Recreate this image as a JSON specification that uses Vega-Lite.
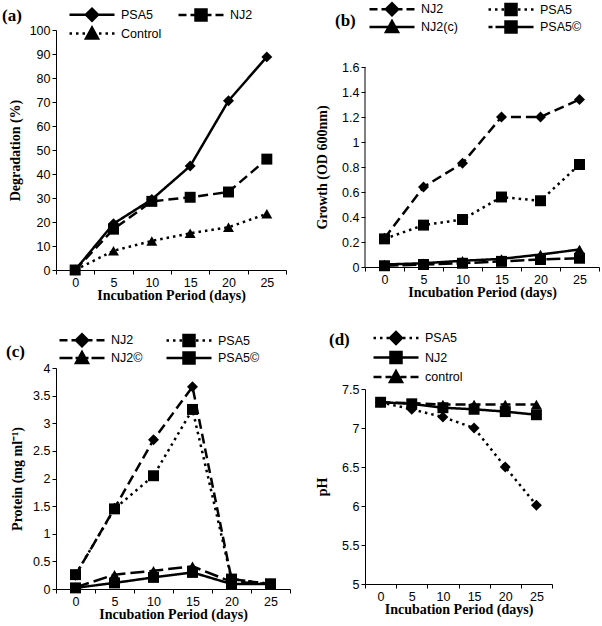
{
  "$schema": "https://vega.github.io/schema/vega-lite/v6.json",
  "background": "white",
  "padding": {"left": 2, "top": 2, "right": 0, "bottom": 0},
  "data": {"values": [
    {"panel":"a","series":"PSA5","day":0,"value":0},{"panel":"a","series":"PSA5","day":5,"value":19.3},{"panel":"a","series":"PSA5","day":10,"value":29.4},{"panel":"a","series":"PSA5","day":15,"value":43.3},{"panel":"a","series":"PSA5","day":20,"value":70.5},{"panel":"a","series":"PSA5","day":25,"value":88.8},
    {"panel":"a","series":"NJ2","day":0,"value":0},{"panel":"a","series":"NJ2","day":5,"value":17},{"panel":"a","series":"NJ2","day":10,"value":28.6},{"panel":"a","series":"NJ2","day":15,"value":30.3},{"panel":"a","series":"NJ2","day":20,"value":32.5},{"panel":"a","series":"NJ2","day":25,"value":46.2},
    {"panel":"a","series":"Control","day":0,"value":0},{"panel":"a","series":"Control","day":5,"value":8},{"panel":"a","series":"Control","day":10,"value":12.1},{"panel":"a","series":"Control","day":15,"value":15.3},{"panel":"a","series":"Control","day":20,"value":17.8},{"panel":"a","series":"Control","day":25,"value":23.4},
    {"panel":"b","series":"NJ2","day":0,"value":0.23},{"panel":"b","series":"NJ2","day":5,"value":0.64},{"panel":"b","series":"NJ2","day":10,"value":0.83},{"panel":"b","series":"NJ2","day":15,"value":1.2},{"panel":"b","series":"NJ2","day":20,"value":1.2},{"panel":"b","series":"NJ2","day":25,"value":1.34},
    {"panel":"b","series":"PSA5","day":0,"value":0.225},{"panel":"b","series":"PSA5","day":5,"value":0.335},{"panel":"b","series":"PSA5","day":10,"value":0.38},{"panel":"b","series":"PSA5","day":15,"value":0.56},{"panel":"b","series":"PSA5","day":20,"value":0.53},{"panel":"b","series":"PSA5","day":25,"value":0.82},
    {"panel":"b","series":"NJ2(c)","day":0,"value":0.02},{"panel":"b","series":"NJ2(c)","day":5,"value":0.03},{"panel":"b","series":"NJ2(c)","day":10,"value":0.05},{"panel":"b","series":"NJ2(c)","day":15,"value":0.065},{"panel":"b","series":"NJ2(c)","day":20,"value":0.1},{"panel":"b","series":"NJ2(c)","day":25,"value":0.14},
    {"panel":"b","series":"PSA5©","day":0,"value":0.01},{"panel":"b","series":"PSA5©","day":5,"value":0.02},{"panel":"b","series":"PSA5©","day":10,"value":0.03},{"panel":"b","series":"PSA5©","day":15,"value":0.045},{"panel":"b","series":"PSA5©","day":20,"value":0.06},{"panel":"b","series":"PSA5©","day":25,"value":0.07},
    {"panel":"c","series":"NJ2","day":0,"value":0.25},{"panel":"c","series":"NJ2","day":5,"value":1.46},{"panel":"c","series":"NJ2","day":10,"value":2.7},{"panel":"c","series":"NJ2","day":15,"value":3.66},{"panel":"c","series":"NJ2","day":20,"value":0.18},{"panel":"c","series":"NJ2","day":25,"value":0.09},
    {"panel":"c","series":"PSA5","day":0,"value":0.26},{"panel":"c","series":"PSA5","day":5,"value":1.45},{"panel":"c","series":"PSA5","day":10,"value":2.05},{"panel":"c","series":"PSA5","day":15,"value":3.25},{"panel":"c","series":"PSA5","day":20,"value":0.18},{"panel":"c","series":"PSA5","day":25,"value":0.09},
    {"panel":"c","series":"NJ2©","day":0,"value":0.03},{"panel":"c","series":"NJ2©","day":5,"value":0.26},{"panel":"c","series":"NJ2©","day":10,"value":0.33},{"panel":"c","series":"NJ2©","day":15,"value":0.41},{"panel":"c","series":"NJ2©","day":20,"value":0.13},{"panel":"c","series":"NJ2©","day":25,"value":0.09},
    {"panel":"c","series":"PSA5©","day":0,"value":0.02},{"panel":"c","series":"PSA5©","day":5,"value":0.11},{"panel":"c","series":"PSA5©","day":10,"value":0.21},{"panel":"c","series":"PSA5©","day":15,"value":0.3},{"panel":"c","series":"PSA5©","day":20,"value":0.09},{"panel":"c","series":"PSA5©","day":25,"value":0.09},
    {"panel":"d","series":"PSA5","day":0,"value":7.33},{"panel":"d","series":"PSA5","day":5,"value":7.24},{"panel":"d","series":"PSA5","day":10,"value":7.14},{"panel":"d","series":"PSA5","day":15,"value":7.0},{"panel":"d","series":"PSA5","day":20,"value":6.5},{"panel":"d","series":"PSA5","day":25,"value":6.01},
    {"panel":"d","series":"NJ2","day":0,"value":7.33},{"panel":"d","series":"NJ2","day":5,"value":7.31},{"panel":"d","series":"NJ2","day":10,"value":7.26},{"panel":"d","series":"NJ2","day":15,"value":7.24},{"panel":"d","series":"NJ2","day":20,"value":7.21},{"panel":"d","series":"NJ2","day":25,"value":7.17},
    {"panel":"d","series":"control","day":0,"value":7.33},{"panel":"d","series":"control","day":5,"value":7.32},{"panel":"d","series":"control","day":10,"value":7.3},{"panel":"d","series":"control","day":15,"value":7.3},{"panel":"d","series":"control","day":20,"value":7.3},{"panel":"d","series":"control","day":25,"value":7.3}
  ]},
  "hconcat": [
    {
      "concat": [
        {
          "width": 230, "height": 240,
          "transform": [{"filter": "datum.panel == 'a'"}],
          "encoding": {
            "x": {"field": "day", "type": "ordinal", "scale": {"type": "band", "paddingInner": 0, "paddingOuter": 0}, "axis": {"title": "Incubation Period (days)"}},
            "y": {"field": "value", "type": "quantitative", "scale": {"domain": [0, 100]}, "axis": {"title": "Degradation (%)", "values": [0,10,20,30,40,50,60,70,80,90,100], "titlePadding": 7}}
          },
          "layer": [
            {"mark": {"type": "line", "color": "black", "strokeWidth": 2.5},
             "encoding": {"strokeDash": {"field": "series", "type": "nominal", "scale": {"domain": ["PSA5","NJ2","Control"], "range": [[1,0],[10,5],[2.5,4]]}, "legend": null}}},
            {"mark": {"type": "point", "filled": true, "color": "black", "opacity": 1, "size": 120},
             "encoding": {"shape": {"field": "series", "type": "nominal", "scale": {"domain": ["PSA5","NJ2","Control"], "range": ["diamond","square","triangle-up"]}, "legend": null}}},
            {"transform": [{"filter": "datum.day < 0"}],
             "mark": {"type": "point", "filled": false, "fill": "black", "stroke": "black", "strokeWidth": 2.5, "opacity": 1},
             "encoding": {"shape": {"field": "series", "type": "nominal",
               "scale": {"domain": ["PSA5","NJ2","Control"], "range": [
                 "M-1,0H8M2.3,0L3.5,-1.2L4.7,0L3.5,1.2Z",
                 "M-1,0H0.6M1.4,0H2.6M4.4,0H5.6M6.4,0H8M2.4,-1.1H4.6V1.1H2.4Z",
                 "M-1,0H-0.5M0.3,0H0.8M1.6,0H2.1M4.9,0H5.4M6.2,0H6.7M7.5,0H8M3.5,-1.2L4.7,1L2.3,1Z"]},
               "legend": {"orient": "none", "legendX": -54, "legendY": -22, "columns": 2, "direction": "horizontal", "columnPadding": 11, "rowPadding": -4, "title": "(a)", "titlePadding": 46}}}}
          ],
          "resolve": {"scale": {"shape": "independent"}}
        },
        {
          "width": 234, "height": 221,
          "transform": [{"filter": "datum.panel == 'c'"}],
          "encoding": {
            "x": {"field": "day", "type": "ordinal", "scale": {"type": "band", "paddingInner": 0, "paddingOuter": 0}, "axis": {"title": "Incubation Period (days)"}},
            "y": {"field": "value", "type": "quantitative", "scale": {"domain": [0, 4]}, "axis": {"title": "Protein (mg ml⁻¹)", "values": [0,0.5,1,1.5,2,2.5,3,3.5,4], "format": "~g", "titlePadding": 8.6}}
          },
          "layer": [
            {"mark": {"type": "line", "color": "black", "strokeWidth": 2.5},
             "encoding": {"strokeDash": {"field": "series", "type": "nominal", "scale": {"domain": ["NJ2","PSA5","NJ2©","PSA5©"], "range": [[10,5],[2.5,4],[14,5],[1,0]]}, "legend": null}}},
            {"mark": {"type": "point", "filled": true, "color": "black", "opacity": 1, "size": 120},
             "encoding": {"shape": {"field": "series", "type": "nominal", "scale": {"domain": ["NJ2","PSA5","NJ2©","PSA5©"], "range": ["diamond","square","triangle-up","square"]}, "legend": null}}},
            {"transform": [{"filter": "datum.day < 0"}],
             "mark": {"type": "point", "filled": false, "fill": "black", "stroke": "black", "strokeWidth": 2.5, "opacity": 1},
             "encoding": {"shape": {"field": "series", "type": "nominal",
               "scale": {"domain": ["NJ2","PSA5","NJ2©","PSA5©"], "range": [
                 "M-1,0H0.6M1.4,0H2.6M4.4,0H5.6M6.4,0H8M2.3,0L3.5,-1.2L4.7,0L3.5,1.2Z",
                 "M-1,0H-0.5M0.3,0H0.8M1.6,0H2.1M4.9,0H5.4M6.2,0H6.7M7.5,0H8M2.4,-1.1H4.6V1.1H2.4Z",
                 "M-1,0H1.6M2.2,0H4.8M5.4,0H8M3.5,-1.2L4.7,1L2.3,1Z",
                 "M-1,0H8M2.4,-1.1H4.6V1.1H2.4Z"]},
               "legend": {"orient": "none", "legendX": -50, "legendY": -34.5, "columns": 2, "direction": "horizontal", "columnPadding": 18, "rowPadding": -13, "title": "(c)", "titlePadding": 33, "titleAnchor": "middle", "titleBaseline": "middle"}}}}
          ],
          "resolve": {"scale": {"shape": "independent"}}
        }
      ],
      "columns": 1,
      "align": "none",
      "spacing": 30,
      "resolve": {"scale": {"strokeDash": "independent", "shape": "independent"}, "legend": {"strokeDash": "independent", "shape": "independent"}}
    },
    {
      "concat": [
        {
          "width": 234, "height": 237,
          "transform": [{"filter": "datum.panel == 'b'"}],
          "encoding": {
            "x": {"field": "day", "type": "ordinal", "scale": {"type": "band", "paddingInner": 0, "paddingOuter": 0}, "axis": {"title": "Incubation Period (days)"}},
            "y": {"field": "value", "type": "quantitative", "scale": {"domain": [0, 1.896]}, "axis": {"title": "Growth (OD 600nm)", "values": [0,0.2,0.4,0.6,0.8,1,1.2,1.4,1.6], "format": "~g", "titlePadding": 12.6, "domain": false, "titleY": 137}}
          },
          "layer": [
            {"transform": [{"filter": "datum.series == 'NJ2' && datum.day == 0"}],
             "mark": {"type": "rule", "color": "black", "strokeWidth": 1},
             "encoding": {"x": {"datum": 0, "type": "ordinal", "bandPosition": 0}, "y": {"datum": 0}, "y2": {"datum": 1.6}}},
            {"mark": {"type": "line", "color": "black", "strokeWidth": 2.5},
             "encoding": {"strokeDash": {"field": "series", "type": "nominal", "scale": {"domain": ["NJ2","PSA5","NJ2(c)","PSA5©"], "range": [[10,5],[2.5,4],[1,0],[14,4]]}, "legend": null}}},
            {"mark": {"type": "point", "filled": true, "color": "black", "opacity": 1, "size": 120},
             "encoding": {"shape": {"field": "series", "type": "nominal", "scale": {"domain": ["NJ2","PSA5","NJ2(c)","PSA5©"], "range": ["diamond","square","triangle-up","square"]}, "legend": null}}},
            {"transform": [{"filter": "datum.day < 0"}],
             "mark": {"type": "point", "filled": false, "fill": "black", "stroke": "black", "strokeWidth": 2.5, "opacity": 1},
             "encoding": {"shape": {"field": "series", "type": "nominal",
               "scale": {"domain": ["NJ2","PSA5","NJ2(c)","PSA5©"], "range": [
                 "M-1,0H0.6M1.4,0H2.6M4.4,0H5.6M6.4,0H8M2.3,0L3.5,-1.2L4.7,0L3.5,1.2Z",
                 "M-1,0H-0.5M0.3,0H0.8M1.6,0H2.1M4.9,0H5.4M6.2,0H6.7M7.5,0H8M2.4,-1.1H4.6V1.1H2.4Z",
                 "M-1,0H8M3.5,-1.2L4.7,1L2.3,1Z",
                 "M-1,0H-0.2M0.4,0H8M2.4,-1.1H4.6V1.1H2.4Z"]},
               "legend": {"orient": "none", "legendX": -30, "legendY": -27.5, "columns": 2, "direction": "horizontal", "columnPadding": 25, "rowPadding": -5, "title": "(b)", "titlePadding": 12, "titleAnchor": "middle", "titleBaseline": "middle"}}}}
          ],
          "resolve": {"scale": {"shape": "independent"}}
        },
        {
          "width": 187, "height": 195,
          "transform": [{"filter": "datum.panel == 'd'"}],
          "encoding": {
            "x": {"field": "day", "type": "ordinal", "scale": {"type": "band", "paddingInner": 0, "paddingOuter": 0}, "axis": {"title": "Incubation Period (days)"}},
            "y": {"field": "value", "type": "quantitative", "scale": {"domain": [5, 7.5]}, "axis": {"title": "pH", "values": [5,5.5,6,6.5,7,7.5], "format": "~g", "titlePadding": 12.6}}
          },
          "layer": [
            {"mark": {"type": "line", "color": "black", "strokeWidth": 2.5},
             "encoding": {"strokeDash": {"field": "series", "type": "nominal", "scale": {"domain": ["PSA5","NJ2","control"], "range": [[2.5,4],[1,0],[10,5]]}, "legend": null}}},
            {"mark": {"type": "point", "filled": true, "color": "black", "opacity": 1, "size": 120},
             "encoding": {"shape": {"field": "series", "type": "nominal", "scale": {"domain": ["PSA5","NJ2","control"], "range": ["diamond","square","triangle-up"]}, "legend": null}}},
            {"transform": [{"filter": "datum.day < 0"}],
             "mark": {"type": "point", "filled": false, "fill": "black", "stroke": "black", "strokeWidth": 2.5, "opacity": 1},
             "encoding": {"shape": {"field": "series", "type": "nominal",
               "scale": {"domain": ["PSA5","NJ2","control"], "range": [
                 "M-1,0H-0.5M0.3,0H0.8M1.6,0H2.1M4.9,0H5.4M6.2,0H6.7M7.5,0H8M2.3,0L3.5,-1.2L4.7,0L3.5,1.2Z",
                 "M-1,0H8M2.4,-1.1H4.6V1.1H2.4Z",
                 "M-1,0H0.6M1.4,0H2.6M4.4,0H5.6M6.4,0H8M3.5,-1.2L4.7,1L2.3,1Z"]},
               "legend": {"orient": "none", "legendX": -36, "legendY": -57.5, "columns": 1, "rowPadding": -2.5, "title": "(d)", "titlePadding": 22}}}}
          ],
          "resolve": {"scale": {"shape": "independent"}}
        }
      ],
      "columns": 1,
      "align": "none",
      "spacing": 31,
      "resolve": {"scale": {"strokeDash": "independent", "shape": "independent"}, "legend": {"strokeDash": "independent", "shape": "independent"}}
    }
  ],
  "spacing": 24,
  "resolve": {"scale": {"strokeDash": "independent", "shape": "independent"}, "legend": {"strokeDash": "independent", "shape": "independent"}},
  "config": {
    "view": {"stroke": null},
    "axis": {"domainColor": "black", "domainWidth": 1, "tickColor": "black", "tickSize": 4, "labelFont": "Liberation Sans", "labelFontSize": 12.5, "labelColor": "black", "titleFont": "Liberation Serif", "titleFontSize": 14, "titleFontWeight": "bold", "titleColor": "black", "grid": false, "labelPadding": 2},
    "axisX": {"labelAngle": 0, "tickBand": "extent", "titlePadding": 0},
    "legend": {"symbolSize": 100, "symbolStrokeWidth": 2.5, "labelFont": "Liberation Sans", "labelFontSize": 12.5, "labelColor": "black", "labelOffset": 40, "titleFont": "Liberation Serif", "titleFontSize": 17, "titleFontWeight": "bold", "titleColor": "black", "titleOrient": "left", "titleAnchor": "start", "titleBaseline": "top", "padding": 0}
  }
}
